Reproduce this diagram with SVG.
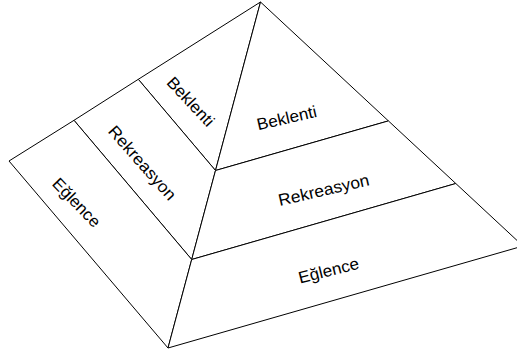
<svg xmlns="http://www.w3.org/2000/svg" width="517" height="356" viewBox="0 0 517 356">
<style>
.f{fill:#fff;stroke:#000;stroke-width:1;stroke-linejoin:miter}
.t{font-family:"Liberation Sans",Arial,sans-serif;font-size:16.5px;fill:#000;text-anchor:middle}
</style>
<rect width="517" height="356" fill="#fff"/>
<g id="left-beklenti">
<polygon class="f" points="260.5,2 138.3,79.3 215.5,170.5"/>
<text class="t" transform="translate(186.5,105.5) rotate(47)" textLength="61" lengthAdjust="spacingAndGlyphs">Beklenti</text>
</g>
<g id="left-rekreasyon">
<polygon class="f" points="138.3,79.3 74,120.3 191.7,259.5 215.5,170.5"/>
<text class="t" transform="translate(138,166.7) rotate(48.5)" textLength="93" lengthAdjust="spacingAndGlyphs">Rekreasyon</text>
</g>
<g id="left-eglence">
<polygon class="f" points="74,120.3 9,161 168,348 191.7,259.5"/>
<text class="t" transform="translate(72.5,206.5) rotate(46)" textLength="61" lengthAdjust="spacingAndGlyphs">Eğlence</text>
</g>
<g id="right-beklenti">
<polygon class="f" points="260.5,2 215.5,170.5 388.4,120.9"/>
<text class="t" transform="translate(288,123.5) rotate(-13)" textLength="61" lengthAdjust="spacingAndGlyphs">Beklenti</text>
</g>
<g id="right-rekreasyon">
<polygon class="f" points="215.5,170.5 191.7,259.5 455.8,183.5 388.4,120.9"/>
<text class="t" transform="translate(325,195.5) rotate(-13)" textLength="93" lengthAdjust="spacingAndGlyphs">Rekreasyon</text>
</g>
<g id="right-eglence">
<polygon class="f" points="191.7,259.5 168,348 523,246 455.8,183.5"/>
<text class="t" transform="translate(330,276) rotate(-14)" textLength="62" lengthAdjust="spacingAndGlyphs">Eğlence</text>
</g>
<g id="connectors"></g>
</svg>
